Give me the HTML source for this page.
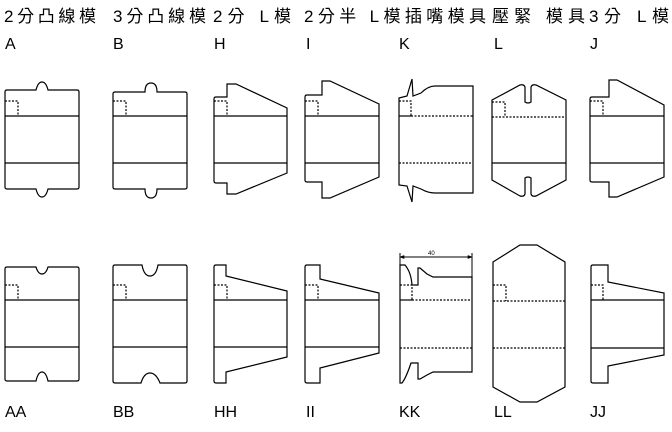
<!DOCTYPE html>
<html><head><meta charset="utf-8"><style>
html,body{margin:0;padding:0;background:#fff;}
svg{display:block}
text{font-family:"Liberation Sans","Noto Sans CJK TC",sans-serif;fill:#000}
</style></head><body>
<svg width="672" height="432" viewBox="0 0 672 432" xmlns="http://www.w3.org/2000/svg">
<g font-size="17">
<text x="4" y="22" textLength="92">2分凸線模</text>
<text x="113" y="22" textLength="93">3分凸線模</text>
<text x="213" y="22" textLength="78">2分  L模</text>
<text x="304" y="22" textLength="182">2分半  L模插嘴模具</text>
<text x="492" y="22" textLength="93">壓緊  模具</text>
<text x="589" y="22" textLength="80">3分  L模</text>
</g>
<g font-size="16">
<text x="5" y="49">A</text><text x="113" y="49">B</text><text x="214" y="49">H</text>
<text x="306" y="49">I</text><text x="399" y="49">K</text><text x="494" y="49">L</text><text x="590" y="49">J</text>
<text x="5" y="417">AA</text><text x="113" y="417">BB</text><text x="214" y="417">HH</text>
<text x="306" y="417">II</text><text x="399" y="417">KK</text><text x="494" y="417">LL</text><text x="590" y="417">JJ</text>
</g>
<g fill="none" stroke="#000" stroke-width="1.2">
<!-- A -->
<path d="M7,90 H36 Q38,82 42,82 Q46,82 48,90 H77 Q79,90 79,92 V187 Q79,189 77,189 H48 Q46,197 42,197 Q38,197 36,189 H7 Q5,189 5,187 V92 Q5,90 7,90 Z"/>
<path d="M5,116H79M5,163H79"/>
<path d="M5,101H18V116" stroke-dasharray="2,1.5"/>
<!-- B -->
<path d="M115,92 H145 Q145,83 151,83 Q157,83 157,92 H185 Q187,92 187,94 V187 Q187,189 185,189 H157 Q157,198 151,198 Q145,198 145,189 H115 Q113,189 113,187 V94 Q113,92 115,92 Z"/>
<path d="M113,116H187M113,163H187"/>
<path d="M113,101H126V116" stroke-dasharray="2,1.5"/>
<!-- H -->
<path d="M214,99 Q214,97 216,97 H227 V84 H236 L287,108 V173 L236,194 H227 V183 H216 Q214,183 214,181 Z"/>
<path d="M214,116H287M214,163H287"/>
<path d="M214,101H227V116" stroke-dasharray="2,1.5"/>
<!-- I -->
<path d="M305,97 Q305,95 307,95 H322 V81 H330 L379,104 V177 L330,198 H322 V182 H307 Q305,182 305,180 Z"/>
<path d="M305,116H379M305,163H379"/>
<path d="M305,101H318V116" stroke-dasharray="2,1.5"/>
<!-- K -->
<path d="M399,98 L407,96 L412,79 L413,96 L421,93 Q428,86 435,86 H473 V193 H435 Q428,193 421,189 L413,186 L412,202 L407,186 L399,185 Z"/>
<path d="M399,116H411"/>
<path d="M399,101H411V116M411,116H473M399,163H473" stroke-dasharray="2,1.5"/>
<!-- L -->
<path d="M492,100 L520,85 Q524,84 525,87 V102 Q528,104 531,102 V87 Q532,84 536,85 L566,100 V180 L536,196 Q532,197 531,194 V178 Q528,176 525,178 V194 Q524,197 520,196 L492,180 Z"/>
<path d="M492,163H566"/>
<path d="M492,102H505V117M492,117H566" stroke-dasharray="2,1.5"/>
<!-- J -->
<path d="M590,99 Q590,97 592,97 H609 V80 H617 L664,105 V177 L617,197 H609 V182 H592 Q590,182 590,180 Z"/>
<path d="M590,116H664M590,163H664"/>
<path d="M590,101H603V116" stroke-dasharray="2,1.5"/>

<!-- AA -->
<path d="M7,267 H36 Q38,274 42,274 Q46,274 48,267 H77 Q79,267 79,269 V379 Q79,381 77,381 H48 Q46,372 42,372 Q38,372 36,381 H7 Q5,381 5,379 V269 Q5,267 7,267 Z"/>
<path d="M5,300H79M5,347H79"/>
<path d="M5,285H18V300" stroke-dasharray="2,1.5"/>
<!-- BB -->
<path d="M115,265 H142 Q144,276 150,276 Q156,276 158,265 H185 Q187,265 187,267 V381 Q187,383 185,383 H160 Q156,373 150,373 Q144,373 141,383 H115 Q113,383 113,381 V267 Q113,265 115,265 Z"/>
<path d="M113,300H187M113,347H187"/>
<path d="M113,285H126V300" stroke-dasharray="2,1.5"/>
<!-- HH -->
<path d="M216,265 H226 V276 L287,291 V357 L226,372 V383 H216 Q214,383 214,381 V267 Q214,265 216,265 Z"/>
<path d="M214,300H287M214,347H287"/>
<path d="M214,285H227V300" stroke-dasharray="2,1.5"/>
<!-- II -->
<path d="M307,265 H320 V279 L379,293 V353 L320,368 V383 H307 Q305,383 305,381 V267 Q305,265 307,265 Z"/>
<path d="M305,300H379M305,347H379"/>
<path d="M305,285H318V300" stroke-dasharray="2,1.5"/>
<!-- KK -->
<path d="M400,265 H405 Q411,272 412,285 H418 V268 H420 L427,274 L433,277 H472 V372 H433 L427,375 L420,379 H418 V363 H411 Q406,378 402,383 H400 Z"/>
<path d="M400,300H412"/>
<path d="M400,285H412V300M412,300H472M400,348H472" stroke-dasharray="2,1.5"/>
<path d="M400,257H472M400,253V265M472,253V277" stroke-width="1"/>
<path d="M400,257l4,-1.5v3zM472,257l-4,-1.5v3z" fill="#000" stroke-width="0.6"/>
<!-- LL -->
<path d="M493,262 L520,245 H537 L565,262 V387 L537,402 H520 L493,387 Z"/>
<path d="M493,285H506V301M493,301H565M493,348H565" stroke-dasharray="2,1.5"/>
<!-- JJ -->
<path d="M593,265 H608 V282 L664,293 V355 L608,366 V383 H593 Q591,383 591,381 V267 Q591,265 593,265 Z"/>
<path d="M591,300H664M591,348H664"/>
<path d="M591,285H603V300" stroke-dasharray="2,1.5"/>
</g>
<text x="428" y="255" font-size="6">40</text>
</svg>
</body></html>
